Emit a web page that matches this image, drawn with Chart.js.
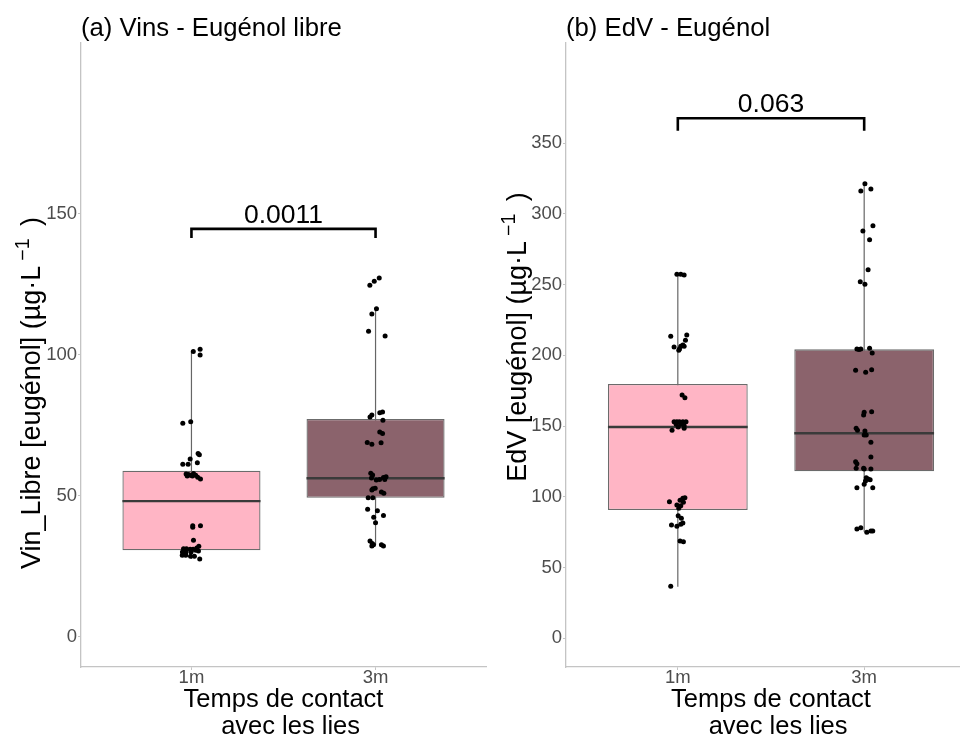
<!DOCTYPE html>
<html>
<head>
<meta charset="utf-8">
<script src="https://cdn.jsdelivr.net/npm/chart.js@4.4.1/dist/chart.umd.min.js"></script>
<style>
  html, body { margin: 0; padding: 0; background: #fff; width: 960px; height: 735px; overflow: hidden; }
  .panel { position: absolute; top: 0; }
  #left { left: 0; }
  #right { left: 490px; }
</style>
</head>
<body>
<div class="panel" id="left"><canvas id="vinChart" width="490" height="740"></canvas></div>
<div class="panel" id="right"><canvas id="edvChart" width="490" height="740"></canvas></div>
<script>
const groups = ['1m', '3m'];
const boxColors = ['#FFB5C5', '#8B636C'];

// (a) wines, free eugenol - box stats per group
const vinLow = [27.6, 32.5];
const vinQ1 = [30.7, 49.3];
const vinMed = [48.1, 56.2];
const vinQ3 = [58.9, 77.2];
const vinHigh = [101.0, 116.5];
const vinTicks = [0, 50, 100, 150];
const vinBracket = [141.4, 144.6];
const vinP = '0.0011';

const vin1m = [101.1, 101.9, 99.9, 75.7, 76.2, 65.0, 64.5, 63.0, 61.2, 61.2, 61.7,
  57.7, 57.5, 57.3, 57.9, 57.3, 56.6, 55.9, 57.0, 57.0,
  39.4, 39.4, 38.8, 34.2, 32.1, 31.5,
  31.2, 31.2, 31.0, 31.0, 30.7, 30.1, 30.1, 30.1, 30.4, 28.9, 28.9, 28.6, 28.6, 27.6];
const vin1mJitter = [0.01, 0.047, 0.047, -0.047, -0.004, 0.036, 0.043, -0.007, -0.047, -0.018, 0.032,
  -0.029, -0.016, -0.005, 0.011, 0.023, 0.034, 0.049, -0.023, 0.005,
  0.007, 0.049, 0.007, 0.011, 0.04, 0.029,
  -0.043, -0.027, -0.007, 0.009, 0.023, -0.049, -0.029, -0.002, 0.038, -0.05, -0.031, -0.005, 0.016, 0.045];

const vin3m = [124.6, 126.0, 127.2, 116.3, 114.4, 108.3, 106.6,
  77.9, 78.6, 79.4, 79.7, 76.8, 72.6, 72.1, 68.9, 68.3, 68.8,
  58.0, 57.4, 56.3, 55.6, 55.8, 56.5, 56.7, 55.8,
  52.5, 52.7, 51.3, 50.9, 52.0, 49.3, 49.3,
  45.2, 44.7, 43.0, 42.4, 40.4,
  34.0, 33.1, 32.6, 32.6, 32.2, 32.2];
const vin3mJitter = [-0.031, -0.007, 0.02, 0.005, -0.02, -0.038, 0.052,
  -0.03, -0.02, 0.023, 0.038, 0.04, 0.023, 0.038, -0.045, -0.02, 0.03,
  -0.026, -0.016, -0.022, 0.004, 0.022, 0.043, 0.057, 0.05,
  -0.014, -0.002, 0.032, 0.045, -0.02, -0.04, -0.015,
  -0.043, 0.01, 0.043, -0.01, 0.0,
  -0.03, -0.018, -0.011, 0.032, 0.043, -0.02];

// (b) EdV, eugenol
const edvLow = [36.5, 75.3];
const edvQ1 = [90.7, 118.0];
const edvMed = [149.3, 144.9];
const edvQ3 = [179.7, 204.2];
const edvHigh = [257.4, 321.6];
const edvTicks = [0, 50, 100, 150, 200, 250, 300, 350];
const edvBracket = [358.7, 367.5];
const edvP = '0.063';

const edv1m = [257.2, 257.2, 256.7, 213.4, 214.3, 210.6, 205.9,
  204.5, 206.4, 207.3, 206.4, 203.5, 171.9, 170.0,
  153.1, 153.1, 153.1, 153.1, 153.1, 151.2, 151.2, 150.2, 149.3, 148.4, 147.0,
  98.9, 99.4, 97.5, 96.1, 96.5, 94.2, 93.7, 91.9,
  86.6, 84.8, 81.5, 80.6, 80.1, 79.2,
  68.8, 68.3, 36.7];
const edv1mJitter = [-0.005, 0.016, 0.034, -0.038, 0.048, 0.041, -0.02,
  0.009, 0.016, 0.027, 0.034, 0.005, 0.023, 0.038,
  -0.02, -0.005, 0.009, 0.027, 0.044, -0.009, 0.016, 0.034, 0.002, 0.034, -0.031,
  0.027, 0.038, 0.012, 0.03, -0.045, -0.005, 0.016, 0.005,
  0.002, 0.019, 0.027, 0.016, -0.034, -0.005,
  0.012, 0.03, -0.038];

const edv3m = [321.3, 316.1, 317.5, 291.6, 287.8, 281.7, 260.5, 252.0, 250.2,
  204.5, 204.0, 204.5, 205.0, 201.6,
  189.4, 188.0, 189.8,
  159.7, 157.8, 160.1,
  148.4, 147.0, 146.5, 143.7, 143.7, 138.5,
  128.1,
  124.8, 123.4, 120.1, 120.1, 119.6, 119.6,
  113.5, 112.6, 111.2, 112.1, 106.4, 108.8, 106.4,
  77.2, 78.2, 74.9, 75.8, 75.8];
const edv3mJitter = [0.004, -0.018, 0.036, 0.047, -0.007, 0.029, 0.021, -0.021, 0.004,
  -0.039, -0.028, -0.018, 0.029, 0.043,
  -0.046, 0.008, 0.040,
  0.0, -0.003, 0.04,
  -0.043, -0.036, 0.004, 0.0, 0.011, 0.036,
  0.036,
  -0.046, -0.039, -0.043, -0.003, 0.0, 0.036,
  0.011, 0.021, 0.007, 0.032, 0.046, 0.0, -0.039,
  -0.039, -0.018, 0.014, 0.036, 0.046];

const FONT = '"Liberation Sans", Arial, Helvetica, sans-serif';
Chart.defaults.font.family = FONT;

// titles, y-axis label with superscript, p-value above the bracket
function panelText(spec) {
  return {
    id: 'panelText',
    afterDraw(chart) {
      const ctx = chart.ctx;
      const area = chart.chartArea;
      const xs = chart.scales.x, ys = chart.scales.y;
      ctx.save();
      ctx.fillStyle = '#000';
      ctx.textBaseline = 'alphabetic';

      ctx.font = '25.7px ' + FONT;
      ctx.textAlign = 'left';
      ctx.fillText(spec.title, area.left, 36);

      ctx.font = '26.5px ' + FONT;
      ctx.textAlign = 'center';
      ctx.fillText(spec.pLabel, xs.getPixelForValue(1.5), ys.getPixelForValue(spec.bracket[1]) - 6);

      // rotated y title: main text, raised "−1", closing paren
      const big = '27px ' + FONT, small = '19.5px ' + FONT;
      const gap = 5;
      ctx.font = big;
      const w1 = ctx.measureText(spec.yTitle).width;
      const w3 = ctx.measureText(' )').width;
      ctx.font = small;
      const w2 = ctx.measureText('\u22121').width + gap * 2;
      const total = w1 + w2 + w3;
      ctx.translate(spec.yTitleX, (area.top + area.bottom) / 2 + spec.yTitleShift);
      ctx.rotate(-Math.PI / 2);
      ctx.textAlign = 'left';
      let cx = -total / 2;
      ctx.font = big;
      ctx.fillText(spec.yTitle, cx, 0);
      cx += w1;
      ctx.font = small;
      ctx.fillText('\u22121', cx + gap, -11);
      cx += w2;
      ctx.font = big;
      ctx.fillText(' )', cx, 0);
      ctx.restore();
    }
  };
}

function buildPanel(id, d) {
  const datasets = [];
  groups.forEach((g, i) => {
    // whisker
    datasets.push({
      type: 'line', data: [{x: i + 1, y: d.low[i]}, {x: i + 1, y: d.high[i]}],
      borderColor: '#666', borderWidth: 1.2, pointRadius: 0, order: 3
    });
    // median
    datasets.push({
      type: 'line', data: [{x: i + 1 - 0.375, y: d.med[i]}, {x: i + 1 + 0.375, y: d.med[i]}],
      borderColor: '#3a3a3a', borderWidth: 2.4, pointRadius: 0, order: 1
    });
  });
  datasets.push({
    type: 'bar',
    data: groups.map((g, i) => ({x: i + 1, y: [d.q1[i], d.q3[i]]})),
    backgroundColor: boxColors, borderColor: '#6b6b6b', borderWidth: 1.3, borderSkipped: false,
    barPercentage: 0.75, categoryPercentage: 1, order: 2
  });
  const pts = d.p1.map((v, k) => ({x: 1 + d.j1[k], y: v}))
    .concat(d.p3.map((v, k) => ({x: 2 + d.j3[k], y: v})));
  datasets.push({
    type: 'scatter', data: pts, backgroundColor: '#000', borderWidth: 0, pointRadius: 2.5, order: 0
  });
  datasets.push({
    type: 'line',
    data: [{x: 1, y: d.bracket[0]}, {x: 1, y: d.bracket[1]}, {x: 2, y: d.bracket[1]}, {x: 2, y: d.bracket[0]}],
    borderColor: '#000', borderWidth: 2.6, pointRadius: 0, order: 0
  });

  const axisGrey = '#c4c4c4';
  const tickFont = {family: FONT, size: 18.5};
  return new Chart(document.getElementById(id), {
    type: 'bar',
    data: {datasets},
    options: {
      responsive: false,
      animation: false,
      devicePixelRatio: 1,
      layout: {padding: {top: 43, right: d.padRight, left: 0, bottom: 0}},
      plugins: {legend: {display: false}, tooltip: {enabled: false}},
      scales: {
        x: {
          type: 'linear', min: 0.4, max: 2.6, offset: false,
          afterBuildTicks: s => { s.ticks = groups.map((g, i) => ({value: i + 1})); },
          afterFit: s => { s.height = 73; },
          ticks: {callback: v => groups[v - 1], color: '#4d4d4d', font: tickFont, padding: -3, maxRotation: 0, autoSkip: false},
          grid: {display: true, drawOnChartArea: false, tickLength: 3, color: axisGrey, offset: false},
          border: {color: axisGrey, width: 1.3},
          title: {
            display: true, text: ['Temps de contact', '  avec les lies'], color: '#000',
            font: {family: FONT, size: 25.5, lineHeight: 1.05}, padding: {top: 0, bottom: 0}
          }
        },
        y: {
          min: d.yMin, max: d.yMax,
          afterBuildTicks: s => { s.ticks = d.ticks.map(v => ({value: v})); },
          afterFit: s => { s.width = d.areaLeft; },
          ticks: {color: '#4d4d4d', font: tickFont, padding: 1, autoSkip: false},
          grid: {display: true, drawOnChartArea: false, tickLength: 3, color: axisGrey},
          border: {color: axisGrey, width: 1.3}
        }
      }
    },
    plugins: [panelText(d)]
  });
}

buildPanel('vinChart', {
  low: vinLow, q1: vinQ1, med: vinMed, q3: vinQ3, high: vinHigh,
  p1: vin1m, j1: vin1mJitter, p3: vin3m, j3: vin3mJitter,
  ticks: vinTicks, yMin: -10.7, yMax: 210.5, bracket: vinBracket, pLabel: vinP,
  title: '(a) Vins - Eugénol libre', yTitle: 'Vin_Libre [eugénol] (µg·L',
  yTitleX: 40, yTitleShift: 38, areaLeft: 81, padRight: 1
});

buildPanel('edvChart', {
  low: edvLow, q1: edvQ1, med: edvMed, q3: edvQ3, high: edvHigh,
  p1: edv1m, j1: edv1mJitter, p3: edv3m, j3: edv3mJitter,
  ticks: edvTicks, yMin: -20.3, yMax: 420.7, bracket: edvBracket, pLabel: edvP,
  title: '(b) EdV - Eugénol', yTitle: 'EdV [eugénol] (µg·L',
  yTitleX: 36, yTitleShift: -18, areaLeft: 76, padRight: 4
});
</script>
</body>
</html>
